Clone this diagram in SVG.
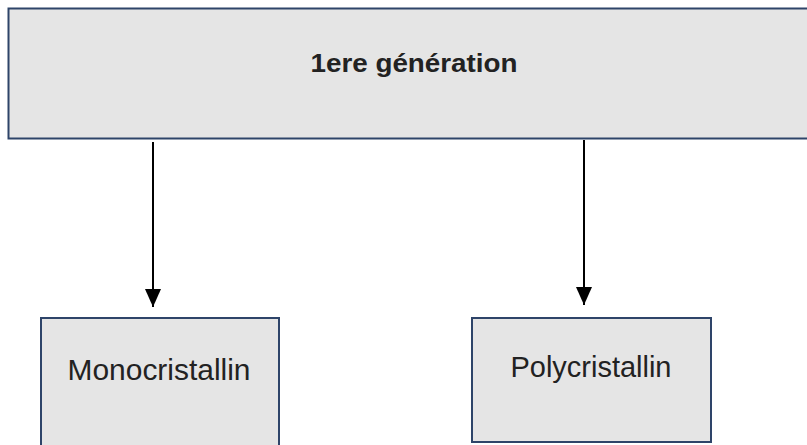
<svg xmlns="http://www.w3.org/2000/svg" width="807" height="445" viewBox="0 0 807 445">
<style>
.box{fill:#e5e5e5;stroke:#2e4469;stroke-width:2}
.lbl{font-family:"Liberation Sans",Arial,sans-serif;fill:#222;text-anchor:middle}
.conn{stroke:#000;stroke-width:2;fill:none}
</style>
<defs>
<marker id="arr" viewBox="0 0 18 16" refX="18" refY="8" markerWidth="18" markerHeight="16" orient="auto" markerUnits="userSpaceOnUse">
<path d="M0,0 L18,8 L0,16 z" fill="#000"/>
</marker>
</defs>
<rect width="807" height="445" fill="#fff"/>
<g id="gen1">
<rect class="box" x="8.5" y="8.5" width="810" height="130"/>
<text class="lbl" x="414" y="72" font-size="26" font-weight="bold" textLength="207" lengthAdjust="spacingAndGlyphs">1ere génération</text>
</g>
<g id="mono">
<rect class="box" x="41" y="318" width="238" height="140"/>
<text class="lbl" x="159" y="380" font-size="29" textLength="183" lengthAdjust="spacingAndGlyphs">Monocristallin</text>
</g>
<g id="poly">
<rect class="box" x="472" y="318" width="239" height="124"/>
<text class="lbl" x="591" y="377" font-size="29" textLength="161" lengthAdjust="spacingAndGlyphs">Polycristallin</text>
</g>
<g id="connectors">
<line class="conn" x1="153" y1="142" x2="153" y2="307" marker-end="url(#arr)"/>
<line class="conn" x1="584" y1="140" x2="584" y2="305" marker-end="url(#arr)"/>
</g>
</svg>
